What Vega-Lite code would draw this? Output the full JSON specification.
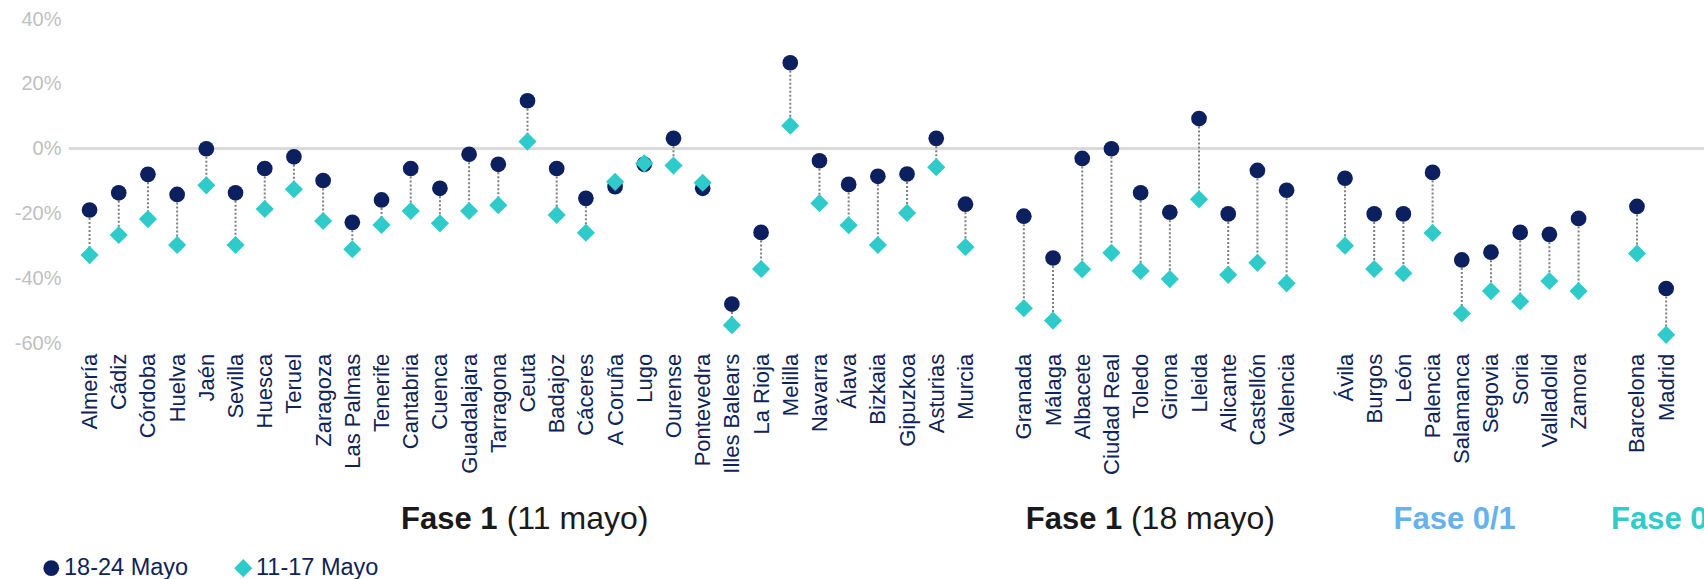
{
  "$schema": "https://vega.github.io/schema/vega-lite/v6.json",
  "width": 1635,
  "height": 324.3,
  "autosize": {"type": "none"},
  "padding": {"left": 69, "top": 19, "right": 0, "bottom": 235.7},
  "background": "white",
  "config": {"view": {"stroke": null}, "font": "Liberation Sans"},
  "datasets": {
    "prov": [
      {"provincia": "Almería", "fase": "Fase 1 (11 mayo)", "may18_24": -18.9, "may11_17": -32.8},
      {"provincia": "Cádiz", "fase": "Fase 1 (11 mayo)", "may18_24": -13.6, "may11_17": -26.6},
      {"provincia": "Córdoba", "fase": "Fase 1 (11 mayo)", "may18_24": -7.9, "may11_17": -21.7},
      {"provincia": "Huelva", "fase": "Fase 1 (11 mayo)", "may18_24": -14.1, "may11_17": -29.7},
      {"provincia": "Jaén", "fase": "Fase 1 (11 mayo)", "may18_24": 0.0, "may11_17": -11.3},
      {"provincia": "Sevilla", "fase": "Fase 1 (11 mayo)", "may18_24": -13.6, "may11_17": -29.7},
      {"provincia": "Huesca", "fase": "Fase 1 (11 mayo)", "may18_24": -6.1, "may11_17": -18.6},
      {"provincia": "Teruel", "fase": "Fase 1 (11 mayo)", "may18_24": -2.5, "may11_17": -12.5},
      {"provincia": "Zaragoza", "fase": "Fase 1 (11 mayo)", "may18_24": -9.8, "may11_17": -22.3},
      {"provincia": "Las Palmas", "fase": "Fase 1 (11 mayo)", "may18_24": -22.7, "may11_17": -31.0},
      {"provincia": "Tenerife", "fase": "Fase 1 (11 mayo)", "may18_24": -15.8, "may11_17": -23.5},
      {"provincia": "Cantabria", "fase": "Fase 1 (11 mayo)", "may18_24": -6.1, "may11_17": -19.2},
      {"provincia": "Cuenca", "fase": "Fase 1 (11 mayo)", "may18_24": -12.2, "may11_17": -23.0},
      {"provincia": "Guadalajara", "fase": "Fase 1 (11 mayo)", "may18_24": -1.7, "may11_17": -19.2},
      {"provincia": "Tarragona", "fase": "Fase 1 (11 mayo)", "may18_24": -4.8, "may11_17": -17.4},
      {"provincia": "Ceuta", "fase": "Fase 1 (11 mayo)", "may18_24": 14.8, "may11_17": 2.2},
      {"provincia": "Badajoz", "fase": "Fase 1 (11 mayo)", "may18_24": -6.1, "may11_17": -20.4},
      {"provincia": "Cáceres", "fase": "Fase 1 (11 mayo)", "may18_24": -15.3, "may11_17": -25.9},
      {"provincia": "A Coruña", "fase": "Fase 1 (11 mayo)", "may18_24": -11.7, "may11_17": -10.2},
      {"provincia": "Lugo", "fase": "Fase 1 (11 mayo)", "may18_24": -4.8, "may11_17": -4.5},
      {"provincia": "Ourense", "fase": "Fase 1 (11 mayo)", "may18_24": 3.2, "may11_17": -5.2},
      {"provincia": "Pontevedra", "fase": "Fase 1 (11 mayo)", "may18_24": -12.2, "may11_17": -10.5},
      {"provincia": "Illes Balears", "fase": "Fase 1 (11 mayo)", "may18_24": -47.9, "may11_17": -54.4},
      {"provincia": "La Rioja", "fase": "Fase 1 (11 mayo)", "may18_24": -25.8, "may11_17": -37.1},
      {"provincia": "Melilla", "fase": "Fase 1 (11 mayo)", "may18_24": 26.5, "may11_17": 7.1},
      {"provincia": "Navarra", "fase": "Fase 1 (11 mayo)", "may18_24": -3.7, "may11_17": -16.8},
      {"provincia": "Álava", "fase": "Fase 1 (11 mayo)", "may18_24": -11.0, "may11_17": -23.6},
      {"provincia": "Bizkaia", "fase": "Fase 1 (11 mayo)", "may18_24": -8.5, "may11_17": -29.7},
      {"provincia": "Gipuzkoa", "fase": "Fase 1 (11 mayo)", "may18_24": -7.8, "may11_17": -19.8},
      {"provincia": "Asturias", "fase": "Fase 1 (11 mayo)", "may18_24": 3.2, "may11_17": -5.7},
      {"provincia": "Murcia", "fase": "Fase 1 (11 mayo)", "may18_24": -17.1, "may11_17": -30.3},
      {"provincia": "Granada", "fase": "Fase 1 (18 mayo)", "may18_24": -20.8, "may11_17": -49.2},
      {"provincia": "Málaga", "fase": "Fase 1 (18 mayo)", "may18_24": -33.7, "may11_17": -53.0},
      {"provincia": "Albacete", "fase": "Fase 1 (18 mayo)", "may18_24": -3.0, "may11_17": -37.2},
      {"provincia": "Ciudad Real", "fase": "Fase 1 (18 mayo)", "may18_24": 0.0, "may11_17": -32.1},
      {"provincia": "Toledo", "fase": "Fase 1 (18 mayo)", "may18_24": -13.6, "may11_17": -37.7},
      {"provincia": "Girona", "fase": "Fase 1 (18 mayo)", "may18_24": -19.6, "may11_17": -40.2},
      {"provincia": "Lleida", "fase": "Fase 1 (18 mayo)", "may18_24": 9.3, "may11_17": -15.6},
      {"provincia": "Alicante", "fase": "Fase 1 (18 mayo)", "may18_24": -20.1, "may11_17": -38.9},
      {"provincia": "Castellón", "fase": "Fase 1 (18 mayo)", "may18_24": -6.7, "may11_17": -35.2},
      {"provincia": "Valencia", "fase": "Fase 1 (18 mayo)", "may18_24": -12.8, "may11_17": -41.5},
      {"provincia": "Ávila", "fase": "Fase 0/1", "may18_24": -9.1, "may11_17": -29.9},
      {"provincia": "Burgos", "fase": "Fase 0/1", "may18_24": -20.1, "may11_17": -37.1},
      {"provincia": "León", "fase": "Fase 0/1", "may18_24": -20.1, "may11_17": -38.4},
      {"provincia": "Palencia", "fase": "Fase 0/1", "may18_24": -7.3, "may11_17": -26.0},
      {"provincia": "Salamanca", "fase": "Fase 0/1", "may18_24": -34.3, "may11_17": -50.8},
      {"provincia": "Segovia", "fase": "Fase 0/1", "may18_24": -31.9, "may11_17": -43.9},
      {"provincia": "Soria", "fase": "Fase 0/1", "may18_24": -25.8, "may11_17": -47.1},
      {"provincia": "Valladolid", "fase": "Fase 0/1", "may18_24": -26.4, "may11_17": -40.8},
      {"provincia": "Zamora", "fase": "Fase 0/1", "may18_24": -21.5, "may11_17": -43.9},
      {"provincia": "Barcelona", "fase": "Fase 0", "may18_24": -17.8, "may11_17": -32.3},
      {"provincia": "Madrid", "fase": "Fase 0", "may18_24": -43.1, "may11_17": -57.4}
    ]
  },
  "layer": [
    {
      "data": {"name": "prov"},
      "mark": {"type": "rule", "color": "#D9D9D9", "strokeWidth": 2},
      "encoding": {"y": {"datum": 0}}
    },
    {
      "data": {"name": "prov"},
      "mark": {"type": "rule", "color": "#7F7F7F", "strokeWidth": 2, "strokeDash": [2, 2]},
      "encoding": {
        "x": {
          "field": "provincia",
          "type": "nominal",
          "scale": {
            "type": "point",
            "domain": ["Almería", "Cádiz", "Córdoba", "Huelva", "Jaén", "Sevilla", "Huesca", "Teruel", "Zaragoza", "Las Palmas", "Tenerife", "Cantabria", "Cuenca", "Guadalajara", "Tarragona", "Ceuta", "Badajoz", "Cáceres", "A Coruña", "Lugo", "Ourense", "Pontevedra", "Illes Balears", "La Rioja", "Melilla", "Navarra", "Álava", "Bizkaia", "Gipuzkoa", "Asturias", "Murcia", "gap1", "Granada", "Málaga", "Albacete", "Ciudad Real", "Toledo", "Girona", "Lleida", "Alicante", "Castellón", "Valencia", "gap2", "Ávila", "Burgos", "León", "Palencia", "Salamanca", "Segovia", "Soria", "Valladolid", "Zamora", "gap3", "Barcelona", "Madrid"],
            "padding": 1.114,
            "align": 0.352
          },
          "axis": {
            "title": null,
            "labelAngle": -90,
            "labelFontSize": 22,
            "labelColor": "#0E2356",
            "labelFont": "Liberation Sans",
            "domain": false,
            "ticks": false,
            "labelPadding": 10,
            "labelOverlap": false,
            "labelExpr": "indexof(datum.label, 'gap') === 0 ? '' : datum.label"
          }
        },
        "y": {
          "field": "may18_24",
          "type": "quantitative",
          "scale": {"domain": [-60, 40], "nice": false, "zero": false},
          "axis": {
            "title": null,
            "values": [-60, -40, -20, 0, 20, 40],
            "labelExpr": "datum.value + '%'",
            "grid": false,
            "domain": false,
            "ticks": false,
            "labelFontSize": 20,
            "labelColor": "#BFBFBF",
            "labelPadding": 8
          }
        },
        "y2": {"field": "may11_17"}
      }
    },
    {
      "data": {"name": "prov"},
      "transform": [{"fold": ["may18_24", "may11_17"], "as": ["serie", "valor"]}],
      "mark": {"type": "point", "filled": true, "opacity": 1, "strokeWidth": 0},
      "encoding": {
        "x": {"field": "provincia", "type": "nominal"},
        "y": {"field": "valor", "type": "quantitative"},
        "color": {
          "field": "serie",
          "type": "nominal",
          "scale": {"domain": ["may18_24", "may11_17"], "range": ["#0C1F5E", "#2FCBCB"]},
          "legend": {
            "orient": "none",
            "legendX": -29.5,
            "legendY": 537,
            "direction": "horizontal",
            "title": null,
            "labelFontSize": 23.5,
            "labelColor": "#0E2356",
            "labelFont": "Liberation Sans",
            "symbolSize": 190,
            "symbolStrokeWidth": 0,
            "columnPadding": 43,
            "labelOffset": 1,
            "padding": 0,
            "labelExpr": "datum.label == 'may18_24' ? '18-24 Mayo' : '11-17 Mayo'"
          }
        },
        "shape": {
          "field": "serie",
          "type": "nominal",
          "scale": {"domain": ["may18_24", "may11_17"], "range": ["circle", "diamond"]}
        },
        "size": {
          "field": "serie",
          "type": "nominal",
          "scale": {"domain": ["may18_24", "may11_17"], "range": [246, 330]},
          "legend": null
        }
      }
    },
    {
      "data": {"values": [{"ancla": "Tarragona", "texto": "Fase 1"}]},
      "mark": {"type": "text", "align": "right", "baseline": "alphabetic", "dx": -0.7, "dy": 186, "fontSize": 31, "fontWeight": "bold", "color": "#1A1A1A", "font": "Liberation Sans"},
      "encoding": {"x": {"field": "ancla", "type": "nominal"}, "y": {"datum": -60}, "text": {"field": "texto"}}
    },
    {
      "data": {"values": [{"ancla": "Tarragona", "texto": "(11 mayo)"}]},
      "mark": {"type": "text", "align": "left", "baseline": "alphabetic", "dx": 8.4, "dy": 186, "fontSize": 32, "color": "#1A1A1A", "font": "Liberation Sans"},
      "encoding": {"x": {"field": "ancla", "type": "nominal"}, "y": {"datum": -60}, "text": {"field": "texto"}}
    },
    {
      "data": {"values": [{"ancla": "Ciudad Real", "texto": "Fase 1"}]},
      "mark": {"type": "text", "align": "right", "baseline": "alphabetic", "dx": 10.9, "dy": 186, "fontSize": 31, "fontWeight": "bold", "color": "#1A1A1A", "font": "Liberation Sans"},
      "encoding": {"x": {"field": "ancla", "type": "nominal"}, "y": {"datum": -60}, "text": {"field": "texto"}}
    },
    {
      "data": {"values": [{"ancla": "Ciudad Real", "texto": "(18 mayo)"}]},
      "mark": {"type": "text", "align": "left", "baseline": "alphabetic", "dx": 19.5, "dy": 186, "fontSize": 32, "color": "#1A1A1A", "font": "Liberation Sans"},
      "encoding": {"x": {"field": "ancla", "type": "nominal"}, "y": {"datum": -60}, "text": {"field": "texto"}}
    },
    {
      "data": {"values": [{"ancla": "Salamanca", "texto": "Fase 0/1"}]},
      "mark": {"type": "text", "align": "center", "baseline": "alphabetic", "dx": -7.1, "dy": 186, "fontSize": 31, "fontWeight": "bold", "color": "#65B2EC", "font": "Liberation Sans"},
      "encoding": {"x": {"field": "ancla", "type": "nominal"}, "y": {"datum": -60}, "text": {"field": "texto"}}
    },
    {
      "data": {"values": [{"ancla": "Barcelona", "texto": "Fase 0"}]},
      "mark": {"type": "text", "align": "left", "baseline": "alphabetic", "dx": -26, "dy": 186, "fontSize": 31, "fontWeight": "bold", "color": "#31CBCB", "font": "Liberation Sans"},
      "encoding": {"x": {"field": "ancla", "type": "nominal"}, "y": {"datum": -60}, "text": {"field": "texto"}}
    }
  ]
}
